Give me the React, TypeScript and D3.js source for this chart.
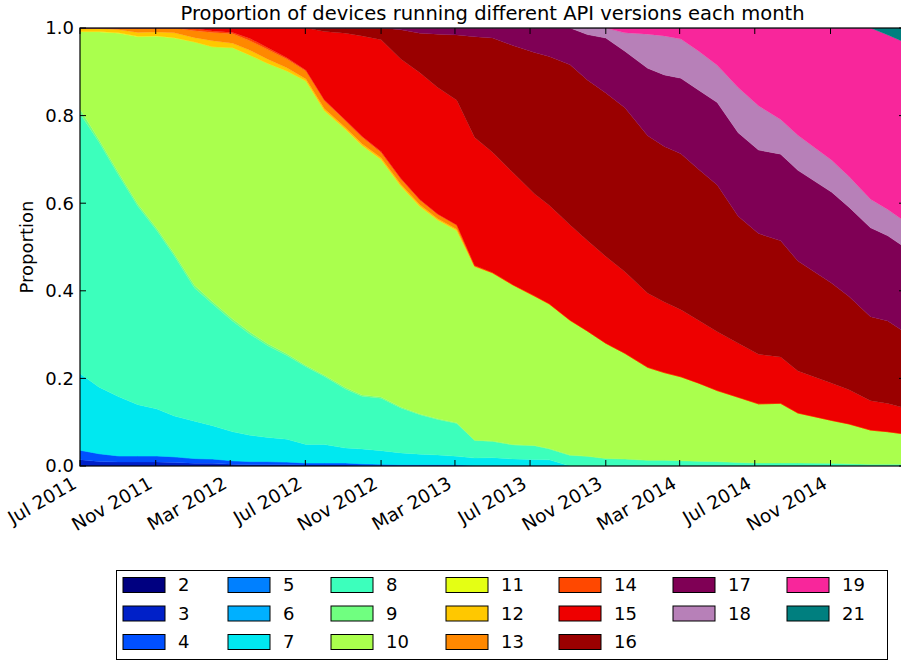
import * as d3 from "d3";

// dashboard snapshot dates
const dates = [
  "2011-07-01", "2011-08-01", "2011-09-02", "2011-10-03", "2011-11-03", "2011-12-01",
  "2012-01-03", "2012-02-01", "2012-03-05", "2012-04-02", "2012-05-01", "2012-06-01",
  "2012-07-02", "2012-08-01", "2012-09-04", "2012-10-01", "2012-11-01", "2012-12-03",
  "2013-01-03", "2013-02-01", "2013-03-04", "2013-04-02", "2013-05-01", "2013-06-03",
  "2013-07-08", "2013-08-01", "2013-09-04", "2013-10-02", "2013-11-01", "2013-12-02",
  "2014-01-08", "2014-02-04", "2014-03-03", "2014-04-01", "2014-05-01", "2014-06-04",
  "2014-07-07", "2014-08-12", "2014-09-09", "2014-11-03", "2014-12-01", "2015-01-05",
  "2015-02-02", "2015-03-02",
];

// share (%) of devices per API level
const api2 = [
  0, 0, 0, 0, 0, 0, 0, 0, 0, 0, 0, 0, 0, 0, 0, 0, 0, 0, 0, 0, 0, 0,
  0, 0, 0, 0, 0, 0, 0, 0, 0, 0, 0, 0, 0, 0, 0, 0, 0, 0, 0, 0, 0, 0,
];
const api3 = [
  1.4, 1.0, 0.9, 0.9, 0.9, 0.8, 0.6, 0.6, 0.4, 0.3, 0.3, 0.3, 0.2, 0.2, 0.2, 0.1, 0.1, 0.1, 0.1, 0.1, 0.1, 0,
  0, 0, 0, 0, 0, 0, 0, 0, 0, 0, 0, 0, 0, 0, 0, 0, 0, 0, 0, 0, 0, 0,
];
const api4 = [
  2.2, 1.8, 1.4, 1.4, 1.4, 1.3, 1.1, 1.0, 0.8, 0.7, 0.7, 0.6, 0.5, 0.5, 0.5, 0.4, 0.3, 0.2, 0.2, 0.2, 0.2, 0.1,
  0.1, 0.1, 0.1, 0.1, 0, 0, 0, 0, 0, 0, 0, 0, 0, 0, 0, 0, 0, 0, 0, 0, 0, 0,
];
const api5 = [
  0, 0, 0, 0, 0, 0, 0, 0, 0, 0, 0, 0, 0, 0, 0, 0, 0, 0, 0, 0, 0, 0,
  0, 0, 0, 0, 0, 0, 0, 0, 0, 0, 0, 0, 0, 0, 0, 0, 0, 0, 0, 0, 0, 0,
];
const api6 = [
  0, 0, 0, 0, 0, 0, 0, 0, 0, 0, 0, 0, 0, 0, 0, 0, 0, 0, 0, 0, 0, 0,
  0, 0, 0, 0, 0, 0, 0, 0, 0, 0, 0, 0, 0, 0, 0, 0, 0, 0, 0, 0, 0, 0,
];
const api7 = [
  17.5, 15.2, 13.5, 11.7, 10.7, 9.3, 8.5, 7.6, 6.6, 6.0, 5.5, 5.2, 4.2, 4.2, 3.4, 3.4, 3.1, 2.7, 2.4, 2.2, 1.9, 1.7,
  1.8, 1.5, 1.4, 1.3, 0, 0, 0, 0, 0, 0, 0, 0, 0, 0, 0, 0, 0, 0, 0, 0, 0, 0,
];
const api8 = [
  59.4, 55.9, 50.5, 45.3, 40.7, 36.6, 30.4, 27.8, 25.3, 23.1, 20.9, 19.1, 17.7, 15.5, 13.5, 12.0, 12.0, 10.3, 9.0, 8.1, 7.5, 4.0,
  3.7, 3.2, 3.1, 2.5, 2.4, 2.2, 1.7, 1.6, 1.3, 1.3, 1.2, 1.1, 1.0, 0.8, 0.7, 0.7, 0.7, 0.6, 0.5, 0.4, 0.4, 0.4,
];
const api9 = [
  1.0, 0.6, 0.6, 0.5, 0.5, 0.5, 0.6, 0.5, 0.5, 0.5, 0.5, 0.4, 0.3, 0.3, 0.3, 0.3, 0.3, 0.2, 0.2, 0.2, 0.2, 0.1,
  0.1, 0.1, 0.1, 0.1, 0.1, 0, 0, 0, 0, 0, 0, 0, 0, 0, 0, 0, 0, 0, 0, 0, 0, 0,
];
const api10 = [
  17.6, 24.6, 31.9, 38.2, 43.9, 49.2, 55.5, 58.1, 62.0, 63.2, 63.9, 64.6, 64.8, 60.3, 59.0, 57.0, 54.4, 50.6, 47.4, 45.4, 43.9, 39.7,
  38.4, 36.4, 34.1, 33.0, 30.7, 28.5, 26.3, 24.1, 21.2, 20.0, 19.0, 17.8, 16.2, 14.9, 13.6, 13.6, 11.4, 9.8, 9.1, 7.8, 7.4, 6.9,
];
const api11 = [
  0.1, 0.1, 0.1, 0.1, 0.1, 0.1, 0, 0, 0, 0, 0, 0, 0, 0, 0, 0, 0, 0, 0, 0, 0, 0,
  0, 0, 0, 0, 0, 0, 0, 0, 0, 0, 0, 0, 0, 0, 0, 0, 0, 0, 0, 0, 0, 0,
];
const api12 = [
  0.6, 0.7, 0.7, 0.9, 0.9, 1.1, 1.0, 1.4, 1.0, 1.1, 1.0, 0.7, 0.5, 0.5, 0.4, 0.4, 0.4, 0.4, 0.4, 0.3, 0.3, 0,
  0, 0, 0, 0, 0, 0, 0, 0, 0, 0, 0, 0, 0, 0, 0, 0, 0, 0, 0, 0, 0, 0,
];
const api13 = [
  0.2, 0.1, 0.4, 1.0, 0.9, 1.1, 1.6, 1.9, 2.2, 2.2, 2.2, 2.0, 1.8, 1.8, 1.5, 1.5, 1.2, 1.2, 1.1, 1.0, 0.9, 0.2,
  0.1, 0.1, 0.1, 0.1, 0.1, 0, 0, 0, 0, 0, 0, 0, 0, 0, 0, 0, 0, 0, 0, 0, 0, 0,
];
const api14 = [
  0, 0, 0, 0, 0, 0, 0.5, 0.3, 0.3, 0.5, 0.4, 0.3, 0.2, 0.2, 0.2, 0.2, 0.2, 0.2, 0.1, 0.1, 0.1, 0,
  0, 0, 0, 0, 0, 0, 0, 0, 0, 0, 0, 0, 0, 0, 0, 0, 0, 0, 0, 0, 0, 0,
];
const api15 = [
  0, 0, 0, 0, 0, 0, 0.1, 0.7, 1.0, 2.4, 4.5, 6.8, 9.6, 15.6, 19.8, 22.9, 25.6, 27.3, 29.0, 28.9, 28.5, 29.3,
  27.5, 25.6, 23.3, 22.5, 21.7, 20.6, 19.8, 18.6, 16.9, 16.1, 15.2, 14.3, 13.4, 12.3, 11.4, 10.6, 9.6, 8.5, 7.8, 6.7, 6.4, 5.9,
];
const api16 = [
  0, 0, 0, 0, 0, 0, 0, 0, 0, 0, 0, 0, 0, 0.8, 1.2, 1.8, 2.7, 6.7, 9.0, 12.2, 14.9, 23.0,
  26.1, 29.0, 32.3, 34.0, 36.6, 36.5, 37.3, 37.4, 35.9, 35.5, 35.3, 34.4, 33.5, 29.0, 27.8, 26.5, 25.1, 22.8, 21.3, 19.2, 18.8, 17.3,
];
const api17 = [
  0, 0, 0, 0, 0, 0, 0, 0, 0, 0, 0, 0, 0, 0, 0, 0, 0, 0.4, 1.2, 1.4, 1.6, 2.0,
  2.3, 4.0, 5.6, 6.5, 8.4, 10.3, 12.5, 12.9, 15.4, 16.3, 17.1, 18.1, 18.8, 19.1, 19.2, 19.8, 20.7, 20.8, 20.4, 20.3, 19.4, 19.4,
];
const api18 = [
  0, 0, 0, 0, 0, 0, 0, 0, 0, 0, 0, 0, 0, 0, 0, 0, 0, 0, 0, 0, 0, 0,
  0, 0, 0, 0, 0, 1.5, 2.3, 4.2, 7.8, 8.9, 8.9, 8.9, 8.5, 10.3, 10.2, 7.9, 8.0, 7.3, 7.0, 6.5, 6.0, 5.9,
];
const api19 = [
  0, 0, 0, 0, 0, 0, 0, 0, 0, 0, 0, 0, 0, 0, 0, 0, 0, 0, 0, 0, 0, 0,
  0, 0, 0, 0, 0, 0, 0, 1.1, 1.4, 1.8, 2.5, 5.3, 8.5, 13.6, 17.9, 20.9, 24.5, 30.2, 33.9, 39.1, 39.7, 40.9,
];
const api21 = [
  0, 0, 0, 0, 0, 0, 0, 0, 0, 0, 0, 0, 0, 0, 0, 0, 0, 0, 0, 0, 0, 0,
  0, 0, 0, 0, 0, 0, 0, 0, 0, 0, 0, 0, 0, 0, 0, 0, 0, 0, 0, 0, 1.6, 3.3,
];

const apiLevels = ["2", "3", "4", "5", "6", "7", "8", "9", "10", "11", "12", "13", "14", "15", "16", "17", "18", "19", "21"];
const apiColors = [
  "#000080", "#0020c8", "#0050ff", "#0080ff", "#00b0ff", "#00e8f0", "#3cffbc", "#70ff80", "#aaff4d", "#e4ff14",
  "#ffc800", "#ff8800", "#ff4800", "#ee0000", "#9a0000", "#7f0055", "#b780b8", "#f8269b", "#007f7f",
];
const seriesValues = [
  api2, api3, api4, api5, api6, api7, api8, api9, api10, api11,
  api12, api13, api14, api15, api16, api17, api18, api19, api21,
];

const xTickDates = [
  "2011-07-01", "2011-11-01", "2012-03-01", "2012-07-01", "2012-11-01", "2013-03-01",
  "2013-07-01", "2013-11-01", "2014-03-01", "2014-07-01", "2014-11-01",
];
const yTickValues = [0, 0.2, 0.4, 0.6, 0.8, 1.0];

const parseDate = d3.utcParse("%Y-%m-%d");
const rows = dates.map((d, i) => {
  const row: any = { date: parseDate(d) };
  apiLevels.forEach((k, j) => {
    row[k] = seriesValues[j][i];
  });
  return row;
});

const font = "'DejaVu Sans', sans-serif";

export default function App() {
  const W = 901;
  const H = 661;
  const left = 80, right = 905, top = 28, bottom = 466;

  const x = d3.scaleUtc().domain(d3.extent(rows, (r: any) => r.date) as [Date, Date]).range([left, right]);
  const y = d3.scaleLinear().domain([0, 1]).range([bottom, top]);

  const layers = d3.stack<any>().keys(apiLevels).offset(d3.stackOffsetExpand)(rows);
  const area = d3
    .area<any>()
    .x((d) => x(d.data.date))
    .y0((d) => y(d[0]))
    .y1((d) => y(d[1]));

  const fmt = d3.utcFormat("%b %Y");
  const tickLen = 6;

  // legend layout: 7 columns filled 3,3,3,3,3,2,2
  const legCols = [123, 228, 331, 446, 559, 673, 787];
  const legRows = [585, 613.5, 642];
  const legPos = (i: number) =>
    i < 15
      ? { c: Math.floor(i / 3), r: i % 3 }
      : { c: 5 + Math.floor((i - 15) / 2), r: (i - 15) % 2 };

  return (
    <svg
      width={W}
      height={H}
      style={{ position: "absolute", left: 0, top: 0, background: "#fff" }}
      fontFamily={font}
    >
      <defs>
        <clipPath id="plot">
          <rect x={left} y={top} width={right - left} height={bottom - top} />
        </clipPath>
      </defs>
      <g clipPath="url(#plot)">
        {layers.map((layer, i) => (
          <path key={apiLevels[i]} d={area(layer) || ""} fill={apiColors[i]} stroke={apiColors[i]} strokeWidth={0.3} />
        ))}
      </g>

      {/* frame */}
      <rect x={left} y={top} width={right - left} height={bottom - top} fill="none" stroke="#000" strokeWidth={1.2} />

      {/* y ticks */}
      {yTickValues.map((v) => (
        <g key={v}>
          <line x1={left} x2={left + tickLen} y1={y(v)} y2={y(v)} stroke="#000" />
          <line x1={right} x2={right - tickLen} y1={y(v)} y2={y(v)} stroke="#000" />
          <text x={left - 6} y={y(v)} dy="0.36em" textAnchor="end" fontSize={18}>
            {v.toFixed(1)}
          </text>
        </g>
      ))}

      {/* x ticks */}
      {xTickDates.map((s) => {
        const t = parseDate(s) as Date;
        const px = x(t);
        return (
          <g key={s}>
            <line x1={px} x2={px} y1={bottom} y2={bottom - tickLen} stroke="#000" />
            <line x1={px} x2={px} y1={top} y2={top + tickLen} stroke="#000" />
            <text
              transform={`translate(${px - 2},${bottom + 21}) rotate(-30)`}
              textAnchor="end"
              fontSize={18.5}
            >
              {fmt(t)}
            </text>
          </g>
        );
      })}

      <text x={(left + right) / 2} y={20} textAnchor="middle" fontSize={19.5}>
        Proportion of devices running different API versions each month
      </text>
      <text transform={`translate(33,${(top + bottom) / 2}) rotate(-90)`} textAnchor="middle" fontSize={18}>
        Proportion
      </text>

      {/* legend */}
      <rect x={116.5} y={570.5} width={771} height={89} fill="#fff" stroke="#000" strokeWidth={1} />
      {apiLevels.map((k, i) => {
        const p = legPos(i);
        const lx = legCols[p.c];
        const ly = legRows[p.r];
        return (
          <g key={k}>
            <rect x={lx} y={ly - 7.5} width={42} height={15} fill={apiColors[i]} stroke="#000" strokeWidth={1} />
            <text x={lx + 55} y={ly} dy="0.36em" fontSize={18}>
              {k}
            </text>
          </g>
        );
      })}
    </svg>
  );
}
